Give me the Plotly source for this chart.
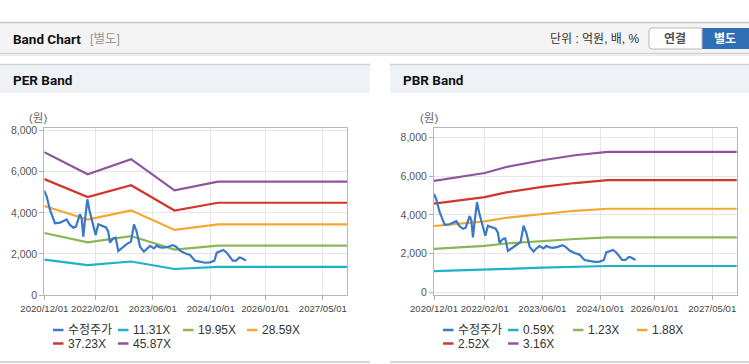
import plotly.graph_objects as go

W, H = 749, 364
def px(x): return x / W
def py(y): return 1 - y / H

# ---------------- data ----------------
price_dates = ['2020-12-01','2020-12-21','2021-01-18','2021-03-01','2021-04-12','2021-05-24','2021-06-07',
               '2021-07-05','2021-08-02','2021-08-24','2021-09-27','2021-10-11','2021-10-25','2021-11-08',
               '2021-11-28','2021-12-15','2022-01-03','2022-01-17','2022-02-06','2022-02-28','2022-03-28',
               '2022-05-04','2022-05-23','2022-06-06','2022-07-04','2022-07-24','2022-08-15','2022-09-12',
               '2022-10-25','2022-11-30','2022-12-25','2023-01-17','2023-02-14','2023-03-19','2023-04-11',
               '2023-05-09','2023-06-11','2023-07-04','2023-08-01','2023-08-29','2023-10-10','2023-11-16',
               '2023-12-14','2024-01-16','2024-02-27','2024-04-09','2024-05-21','2024-07-03','2024-08-14',
               '2024-09-25','2024-10-31','2024-11-20','2024-12-18','2025-01-15','2025-02-12','2025-03-12',
               '2025-04-03','2025-05-01','2025-05-29','2025-06-18','2025-07-08','2025-07-24']
price_values = [5080,4790,4140,3490,3520,3620,3680,
                3410,3280,3330,3940,3730,2840,3650,
                4660,4140,3650,3330,2920,3440,3360,
                3290,3080,2550,2760,2790,2140,2270,
                2480,2600,3440,3080,2350,2110,2260,
                2390,2270,2400,2320,2300,2350,2430,
                2350,2160,2030,1950,1670,1610,1570,
                1590,1670,2060,2140,2190,2060,1830,
                1670,1670,1830,1800,1740,1670]

per_dates = ['2020-12-01','2021-12-01','2022-12-01','2023-12-01','2024-12-01','2027-12-01']
per_11_31 = [1720,1455,1630,1265,1370,1370]
per_19_95 = [3020,2560,2870,2210,2400,2400]
per_28_59 = [4330,3670,4120,3170,3440,3440]
per_37_23 = [5640,4770,5340,4110,4490,4490]
per_45_87 = [6950,5880,6610,5090,5520,5520]
per_labels = ['11.31X','19.95X','28.59X','37.23X','45.87X']

pbr_dates = ['2020-12-01','2022-02-01','2022-08-01','2023-06-01','2024-03-01','2024-12-01','2027-12-01']
pbr_0_59 = [1090,1152,1210,1275,1323,1360,1360]
pbr_1_23 = [2242,2401,2522,2658,2757,2835,2835]
pbr_1_88 = [3427,3671,3855,4063,4215,4319,4319]
pbr_2_52 = [4580,4920,5168,5447,5650,5795,5795]
pbr_3_16 = [5760,6170,6480,6830,7085,7257,7257]
pbr_labels = ['0.59X','1.23X','1.88X','2.52X','3.16X']

price_label = '수정주가'
x_tick_vals = ['2020-12-01','2022-02-01','2023-06-01','2024-10-01','2026-01-01','2027-05-01']
x_tick_text = ['2020/12/01','2022/02/01','2023/06/01','2024/10/01','2026/01/01','2027/05/01']
y_tick_vals = [0, 2000, 4000, 6000, 8000]

# ---------------- style ----------------
price_color = '#3a78c8'
band_colors = ['#1db3c6', '#8cb556', '#f5a631', '#d2352c', '#8f549f']
FONT = 'Liberation Sans, Arial, Noto Sans CJK KR, sans-serif'
BOLD_FONT = 'Roboto, Liberation Sans, Noto Sans CJK KR, sans-serif'

fig = go.Figure()

def add_panel(xa, ya, band_dates, bands):
    for vals, col in zip(bands, band_colors):
        fig.add_trace(go.Scatter(x=band_dates, y=vals, mode='lines', xaxis=xa, yaxis=ya,
                                 line=dict(color=col, width=2.2), showlegend=False, hoverinfo='skip'))
    fig.add_trace(go.Scatter(x=price_dates, y=price_values, mode='lines', xaxis=xa, yaxis=ya,
                             line=dict(color=price_color, width=2.2), showlegend=False))

add_panel('x', 'y', per_dates, [per_11_31, per_19_95, per_28_59, per_37_23, per_45_87])
add_panel('x2', 'y2', pbr_dates, [pbr_0_59, pbr_1_23, pbr_1_88, pbr_2_52, pbr_3_16])

xcommon = dict(type='date', range=['2020-12-01', '2027-11-23'], tickvals=x_tick_vals, ticktext=x_tick_text,
               tickangle=0, automargin=False,
               showgrid=True, gridcolor='#e6e6e6', showline=True, linecolor='#b8b8b8', mirror=True,
               ticks='outside', ticklen=4, tickcolor='#b0b0b0', zeroline=False,
               tickfont=dict(family=FONT, size=9.6, color='#444'), fixedrange=True)
ycommon = dict(tickvals=y_tick_vals, tickformat=',d', showgrid=True, gridcolor='#e6e6e6', automargin=False,
               showline=True, linecolor='#b8b8b8', mirror=True, ticks='outside', ticklen=4,
               tickcolor='#b0b0b0', zeroline=False, tickfont=dict(family=FONT, size=10.5, color='#555'),
               fixedrange=True)

ydom = [py(295), py(128.3)]
fig.update_layout(
    template='none',
    width=W, height=H, autosize=False, margin=dict(l=0, r=0, t=0, b=0, pad=0),
    paper_bgcolor='white', plot_bgcolor='white', showlegend=False,
    xaxis=dict(xcommon, domain=[px(44.3), px(347.3)], anchor='y'),
    yaxis=dict(ycommon, domain=ydom, range=[0, 8115], anchor='x'),
    xaxis2=dict(xcommon, domain=[px(434), px(736.7)], anchor='y2'),
    yaxis2=dict(ycommon, domain=ydom, range=[-140, 8480], anchor='x2'),
)

shapes = []
ann = []

def rect(x0, y0, x1, y1, fill, line=None, lw=0):
    shapes.append(dict(type='rect', xref='paper', yref='paper', x0=px(x0), x1=px(x1), y0=py(y1), y1=py(y0),
                       fillcolor=fill, line=dict(color=line or fill, width=lw), layer='below'))

def hline(x0, x1, y, color, w):
    shapes.append(dict(type='line', xref='paper', yref='paper', x0=px(x0), x1=px(x1), y0=py(y), y1=py(y),
                       line=dict(color=color, width=w)))

def text(x, y, s, size=12, color='#333', anchor='left', family=FONT):
    ann.append(dict(xref='paper', yref='paper', x=px(x), y=py(y), text=s, showarrow=False,
                    xanchor=anchor, yanchor='middle', font=dict(family=family, size=size, color=color)))

# header bar
rect(0, 22.5, 749, 53, '#f4f4f4')
hline(0, 749, 22.5, '#c4c4c4', 1.5)
rect(0, 53, 749, 56, '#ececec')
hline(0, 749, 53.3, '#cdcdcd', 1)
text(11, 39, '<b>Band Chart</b>', size=13.5, color='#111', family=BOLD_FONT)
text(88, 39, '[별도]', size=12.5, color='#999')
text(642, 39, '단위 : 억원, 배, %', size=12, color='#333', anchor='right')
shapes.append(dict(type='path', xref='paper', yref='paper',
                   path=f'M {px(702)} {py(28)} L {px(652)} {py(28)} Q {px(649)} {py(28)} {px(649)} {py(31)} '
                        f'L {px(649)} {py(46)} Q {px(649)} {py(49)} {px(652)} {py(49)} L {px(702)} {py(49)} Z',
                   fillcolor='white', line=dict(color='#b9b9b9', width=1)))
rect(700, 28, 749, 49, '#2f6fb6')
text(674.5, 39, '<b>연결</b>', size=12, color='#555', anchor='center')
text(724.5, 39, '<b>별도</b>', size=12, color='white', anchor='center')

# panel headers
for x0, x1, title in [(0, 370, 'PER Band'), (390, 749, 'PBR Band')]:
    rect(x0, 64, x1, 93, '#eef1f6')
    hline(x0, x1, 64.5, '#d2d2d2', 1.5)
    hline(x0, x1, 362, '#d6d6d6', 2)
    text(x0 + 10.5, 79.5, f'<b>{title}</b>', size=13.5, color='#111', family=BOLD_FONT)

# axis unit labels
text(38, 117.5, '(원)', size=11.5, color='#666', anchor='center')
text(429, 117.5, '(원)', size=11.5, color='#666', anchor='center')

# custom legends
legend_slots = [(53, 330), (118, 330), (183, 330), (247, 330), (53, 343.5), (118, 343.5)]
for off, labels in [(0, per_labels), (390, pbr_labels)]:
    names = [price_label] + labels
    cols = [price_color] + band_colors
    for (lx, ly), name, col in zip(legend_slots, names, cols):
        hline(lx + off, lx + off + 10.5, ly, col, 2.5)
        text(lx + off + 12.5, ly, name, size=12, color='#333')

fig.update_layout(shapes=shapes, annotations=ann)
fig.write_html('out.html', default_width='749px', default_height='364px',
               config={'displayModeBar': False},
               post_script="document.body.style.margin='0';document.body.style.overflow='hidden';")
